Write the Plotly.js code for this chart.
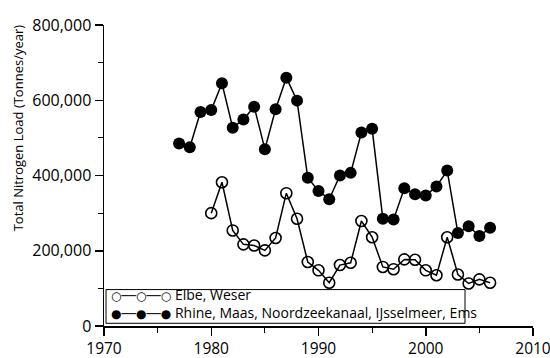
<!DOCTYPE html>
<html>
<head>
<meta charset="utf-8">
<script src="https://cdn.plot.ly/plotly-3.0.1.min.js"></script>
<style>html,body{margin:0;padding:0;background:#fff;}#chart{width:550px;height:358px;}</style>
</head>
<body>
<div id="chart"></div>
<script>
var yearsElbe = [1980,1981,1982,1983,1984,1985,1986,1987,1988,1989,1990,1991,1992,1993,1994,1995,1996,1997,1998,1999,2000,2001,2002,2003,2004,2005,2006];
var loadElbe = [300000,382000,254000,217000,214000,201000,234000,353000,285000,170000,148000,115000,162000,168000,279000,236000,157000,151000,177000,176000,148000,135000,236000,137000,113000,124000,115000];
var yearsRhine = [1977,1978,1979,1980,1981,1982,1983,1984,1985,1986,1987,1988,1989,1990,1991,1992,1993,1994,1995,1996,1997,1998,1999,2000,2001,2002,2003,2004,2005,2006];
var loadRhine = [485000,475000,569000,574000,645000,527000,549000,583000,470000,576000,660000,599000,394000,359000,337000,400000,407000,514000,524000,285000,283000,366000,350000,347000,371000,413000,247000,265000,239000,261000];
var nameElbe = "Elbe, Weser";
var nameRhine = "Rhine, Maas, Noordzeekanaal, IJsselmeer, Ems";
var yTickVals = [0,200000,400000,600000,800000];
var yTickText = ["0","200,000","400,000","600,000","800,000"];
var xTickVals = [1970,1980,1990,2000,2010];
var xTitle = "Year";
var yTitle = "Total Nitrogen Load (Tonnes/year)";

var traces = [
  {x: yearsElbe, y: loadElbe, name: nameElbe, type: "scatter", mode: "lines+markers",
   line: {color: "#000", width: 1.5},
   marker: {symbol: "circle-open", size: 11, color: "#000", line: {color: "#000", width: 1.6}}},
  {x: yearsRhine, y: loadRhine, name: nameRhine, type: "scatter", mode: "lines+markers",
   line: {color: "#000", width: 1.5},
   marker: {symbol: "circle", size: 12, color: "#000"}}
];

function legendLine(sym, name) {
  return '<span style="font-family:DejaVu Sans;font-size:12px">' + sym + '──' + sym + '──' + sym + '</span> ' + name;
}
var legendBlock = legendLine("○", nameElbe) + "<br>" + legendLine("●", nameRhine);

var layout = {
  width: 550, height: 358,
  margin: {l: 104, r: 17, t: 24.5, b: 32.3, pad: 0},
  paper_bgcolor: "#fff", plot_bgcolor: "#fff",
  font: {family: "Open Sans, sans-serif", color: "#000", size: 14},
  showlegend: false,
  xaxis: {range: [1970, 2010], tickvals: xTickVals, showgrid: false, zeroline: false,
    showline: true, linecolor: "#000", linewidth: 1.5,
    ticks: "outside", ticklen: 8, tickwidth: 1.5, tickcolor: "#000",
    ticklabeloverflow: "allow",
    tickfont: {size: 15.5, family: "Open Sans, sans-serif", color: "#000"},
    minor: {ticks: "outside", dtick: 5, ticklen: 5, tickwidth: 1.2, tickcolor: "#000", showgrid: false}},
  yaxis: {range: [0, 800000], tickvals: yTickVals, ticktext: yTickText, showgrid: false, zeroline: false,
    showline: true, linecolor: "#000", linewidth: 1.5,
    ticks: "outside", ticklen: 8, tickwidth: 1.5, tickcolor: "#000",
    tickfont: {size: 16, family: "Open Sans, sans-serif", color: "#000"},
    minor: {ticks: "outside", dtick: 100000, ticklen: 5, tickwidth: 1.2, tickcolor: "#000", showgrid: false}},
  shapes: [
    {type: "rect", xref: "paper", yref: "paper", x0: 0.0047, x1: 0.8415, y0: 0.009, y1: 0.121,
     line: {color: "#000", width: 1}, fillcolor: "rgba(255,255,255,0)", layer: "above"}
  ],
  annotations: [
    {text: legendBlock, xref: "paper", yref: "paper", x: 0.0117, y: 0.0737,
     xanchor: "left", yanchor: "middle", showarrow: false, align: "left", font: {size: 14, color: "#000"}},
    {text: xTitle, xref: "paper", yref: "paper", x: 0.5, y: -0.094, xanchor: "center", yanchor: "top",
     showarrow: false, font: {size: 14, color: "#000"}},
    {text: yTitle, xref: "paper", yref: "paper", x: -0.2005, y: 0.66, xanchor: "center", yanchor: "middle",
     textangle: -90, showarrow: false, font: {size: 13, color: "#000"}}
  ]
};

Plotly.newPlot("chart", traces, layout, {displayModeBar: false, staticPlot: true});
</script>
</body>
</html>
